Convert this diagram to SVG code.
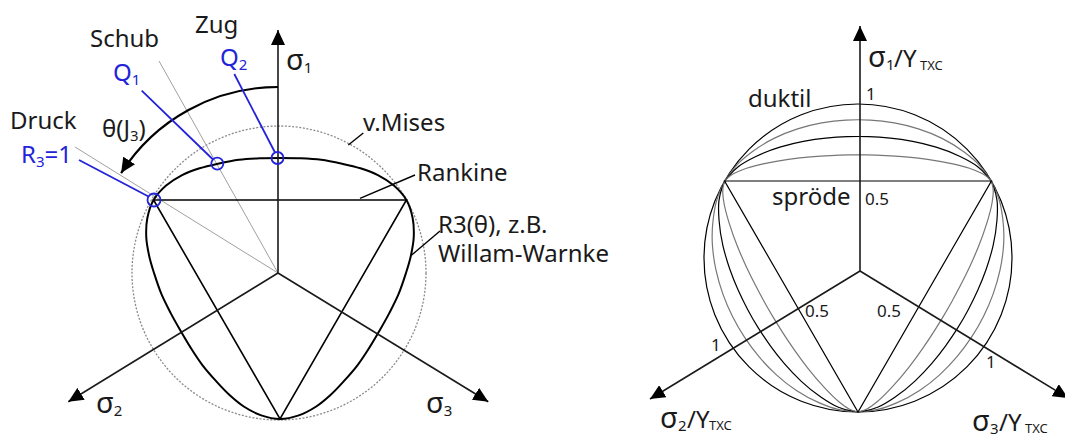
<svg xmlns="http://www.w3.org/2000/svg" width="1065" height="439" viewBox="0 0 1065 439">
<style>
text{font-family:"Noto Sans","Open Sans",sans-serif;fill:#1a1a1a;font-size:24px}
.blue{fill:#2323d8}
.sub{font-size:15px}
.sig{font-size:29px}
.num{font-size:17px}
.txc{font-size:13px}
.axis{stroke:#1a1a1a;stroke-width:1.6;fill:none}
.ww{stroke:#000;stroke-width:2;fill:none}
.tri{stroke:#000;stroke-width:1.6;fill:none}
.guide{stroke:#a0a0a0;stroke-width:1;fill:none}
.mises{stroke:#8a8a8a;stroke-width:1.3;stroke-dasharray:2 1.6;fill:none}
.bl{stroke:#2323d8;stroke-width:1.8;fill:none}
.lead{stroke:#000;stroke-width:1.4;fill:none}
.fk{stroke:#000;stroke-width:1.2;fill:none}
.fg{stroke:#777;stroke-width:1.2;fill:none}
</style>
<defs>
<marker id="arr" markerUnits="userSpaceOnUse" markerWidth="16" markerHeight="14" refX="15" refY="7" orient="auto">
<path d="M0,0 L15,7 L0,14 Z" fill="#000"/>
</marker>
<path id="wwl" d="M-126.4,-73 C-123.3,-78.4 -118.65,-83.25 -113.9,-87.4 C-109.15,-91.55 -103.48,-95.02 -97.9,-97.9 C-92.32,-100.78 -86.22,-102.83 -80.4,-104.7 C-74.58,-106.57 -69.5,-107.7 -63,-109.1 C-56.5,-110.5 -48.3,-112.3 -41.2,-113.2 C-34.1,-114.1 -27.1,-114.4 -20.2,-114.7 C-13.3,-115 -6.73,-115 0,-115 C6.73,-115 13.3,-115 20.2,-114.7 C27.1,-114.4 34.1,-114.1 41.2,-113.2 C48.3,-112.3 56.5,-110.5 63,-109.1 C69.5,-107.7 74.58,-106.57 80.4,-104.7 C86.22,-102.83 92.32,-100.78 97.9,-97.9 C103.48,-95.02 109.15,-91.55 113.9,-87.4 C118.65,-83.25 123.3,-78.4 126.4,-73"/>
<path id="r09" d="M-133.4,-77 L-129.55,-82.5 Q-125.7,-88 -121.2,-92.95 Q-116.7,-97.9 -106.15,-105.9 Q-95.6,-113.9 -84,-119.6 Q-72.4,-125.3 -60.4,-129.1 Q-48.4,-132.9 -36.3,-135.05 Q-24.2,-137.2 -12.1,-137.9 Q0,-138.6 12.1,-137.9 Q24.2,-137.2 36.3,-135.05 Q48.4,-132.9 60.4,-129.1 Q72.4,-125.3 84,-119.6 Q95.6,-113.9 106.15,-105.9 Q116.7,-97.9 121.2,-92.95 Q125.7,-88 129.55,-82.5 L133.4,-77"/>
<path id="r079" d="M-133.4,-77 L-129.1,-82.2 Q-124.8,-87.4 -119.45,-91.55 Q-114.1,-95.7 -102.1,-101.5 Q-90.1,-107.3 -78.1,-110.85 Q-66.1,-114.4 -54.65,-116.55 Q-43.2,-118.7 -32.25,-119.8 Q-21.3,-120.9 -10.65,-121.3 Q0,-121.7 10.65,-121.3 Q21.3,-120.9 32.25,-119.8 Q43.2,-118.7 54.65,-116.55 Q66.1,-114.4 78.1,-110.85 Q90.1,-107.3 102.1,-101.5 Q114.1,-95.7 119.45,-91.55 Q124.8,-87.4 129.1,-82.2 L133.4,-77"/>
<path id="r067" d="M-133.4,-77 L-131,-79.45 Q-128.6,-81.9 -125.45,-83.75 Q-122.3,-85.6 -115.35,-88.3 Q-108.4,-91 -94.9,-94.05 Q-81.4,-97.1 -69.65,-98.7 Q-57.9,-100.3 -47.5,-101.15 Q-37.1,-102 -27.6,-102.45 Q-18.1,-102.9 -9.05,-103.05 Q0,-103.2 9.05,-103.05 Q18.1,-102.9 27.6,-102.45 Q37.1,-102 47.5,-101.15 Q57.9,-100.3 69.65,-98.7 Q81.4,-97.1 94.9,-94.05 Q108.4,-91 115.35,-88.3 Q122.3,-85.6 125.45,-83.75 Q128.6,-81.9 131,-79.45 L133.4,-77"/>
</defs>
<rect width="1065" height="439" fill="#fff"/>

<!-- LEFT DIAGRAM -->
<g id="left-diagram">
  <g id="left-guides">
    <circle class="mises" cx="279" cy="273" r="147"/>
    <line class="guide" x1="159" y1="61" x2="278" y2="273"/>
    <line class="guide" x1="75" y1="147" x2="278" y2="273"/>
  </g>
  <g id="left-rankine">
    <polygon class="tri" points="153.6,200 406.4,200 280,419"/>
  </g>
  <g id="left-willam-warnke" transform="translate(280,273)">
    <use href="#wwl" class="ww"/>
    <use href="#wwl" class="ww" transform="rotate(120)"/>
    <use href="#wwl" class="ww" transform="rotate(240)"/>
  </g>
  <g id="left-axes">
    <line class="axis" x1="278" y1="273" x2="278" y2="30" marker-end="url(#arr)"/>
    <line class="axis" x1="278" y1="273" x2="68.3" y2="401.7" marker-end="url(#arr)"/>
    <line class="axis" x1="278" y1="273" x2="488.3" y2="401.7" marker-end="url(#arr)"/>
  </g>
  <g id="theta-arrow">
    <path d="M278,87 A186,186 0 0 0 121.1,173.1" stroke="#000" stroke-width="2.2" fill="none" marker-end="url(#arr)"/>
  </g>
  <g id="points">
    <circle class="bl" cx="217.3" cy="163.7" r="6"/>
    <circle class="bl" cx="277.5" cy="158" r="6"/>
    <circle class="bl" cx="154" cy="200" r="6.5"/>
  </g>
  <g id="left-labels">
    <text x="195" y="33">Zug</text>
    <text x="90" y="47">Schub</text>
    <text x="10" y="129">Druck</text>
    <text class="blue" x="113" y="81">Q<tspan class="sub" dy="4">1</tspan></text>
    <text class="blue" x="220" y="66">Q<tspan class="sub" dy="4">2</tspan></text>
    <text class="blue" x="21" y="163">R<tspan class="sub" dy="4">3</tspan><tspan dy="-4">=1</tspan></text>
    <text x="102" y="137">θ(J<tspan class="sub" dy="4">3</tspan><tspan dy="-4">)</tspan></text>
    <text class="sig" x="286" y="70">σ<tspan class="sub" dy="3">1</tspan></text>
    <text class="sig" x="96" y="413">σ<tspan class="sub" dy="3">2</tspan></text>
    <text class="sig" x="426" y="413">σ<tspan class="sub" dy="3">3</tspan></text>
    <text x="363" y="131">v.Mises</text>
    <text x="417" y="181">Rankine</text>
    <text x="438" y="233">R3(θ), z.B.</text>
    <text x="438" y="262">Willam-Warnke</text>
  </g>
</g>

<!-- RIGHT DIAGRAM -->
<g id="right-diagram">
  <g id="right-curves">
    <circle class="fk" cx="858" cy="258" r="154"/>
    <g transform="translate(858,258)">
      <use href="#r09" class="fg"/>
      <use href="#r09" class="fg" transform="rotate(120)"/>
      <use href="#r09" class="fg" transform="rotate(240)"/>
      <use href="#r079" class="fk"/>
      <use href="#r079" class="fk" transform="rotate(120)"/>
      <use href="#r079" class="fk" transform="rotate(240)"/>
      <use href="#r067" class="fg"/>
      <use href="#r067" class="fg" transform="rotate(120)"/>
      <use href="#r067" class="fg" transform="rotate(240)"/>
    </g>
    <polygon class="fk" points="724.6,181 991.4,181 858,412"/>
  </g>
  <g id="right-axes">
    <line class="axis" x1="860" y1="271" x2="860" y2="26" marker-end="url(#arr)"/>
    <line class="axis" x1="860" y1="271" x2="650" y2="399" marker-end="url(#arr)"/>
    <line class="axis" x1="860" y1="271" x2="1068" y2="398" marker-end="url(#arr)"/>
  </g>
  <g id="right-labels">
    <text><tspan class="sig" x="868" y="67">σ</tspan><tspan class="sub" x="886" y="70">1</tspan><tspan x="894" y="67">/Y</tspan><tspan class="txc" x="920" y="70">TXC</tspan></text>
    <text><tspan class="sig" x="660" y="428">σ</tspan><tspan class="sub" x="678" y="431">2</tspan><tspan x="687" y="428">/Y</tspan><tspan class="txc" x="709" y="430">TXC</tspan></text>
    <text><tspan class="sig" x="972" y="431">σ</tspan><tspan class="sub" x="990" y="434">3</tspan><tspan x="999" y="431">/Y</tspan><tspan class="txc" x="1025" y="433">TXC</tspan></text>
    <text class="num" x="866" y="100">1</text>
    <text x="748" y="107">duktil</text>
    <text x="772" y="205">spröde</text>
    <text class="num" x="865" y="205">0.5</text>
    <text class="num" x="805" y="317">0.5</text>
    <text class="num" x="877" y="317">0.5</text>
    <text class="num" x="711" y="351">1</text>
    <text class="num" x="986" y="368">1</text>
  </g>
</g>

<!-- CONNECTORS (leader lines) -->
<g id="connectors">
  <line class="lead" x1="348.3" y1="145" x2="363.3" y2="133"/>
  <line class="lead" x1="360" y1="198.3" x2="415" y2="175"/>
  <line class="lead" x1="411.7" y1="255" x2="440" y2="231"/>
  <line class="bl" x1="141.7" y1="90.7" x2="213" y2="159.5"/>
  <line class="bl" x1="234.3" y1="74" x2="275" y2="152.5"/>
  <line class="bl" x1="79" y1="160" x2="148.5" y2="196.5"/>
</g>
</svg>
